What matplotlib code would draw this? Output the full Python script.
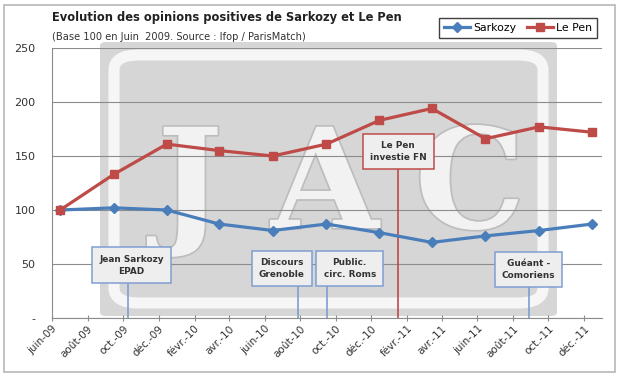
import datetime as dt

import matplotlib
matplotlib.use("Agg")
import matplotlib.pyplot as plt
import matplotlib.dates as mdates
from matplotlib.patches import FancyBboxPatch, Rectangle
import matplotlib.patheffects as pe

# data: one point every quarter, base 100 in June 2009
dates = [dt.date(2009, 6, 15), dt.date(2009, 9, 15), dt.date(2009, 12, 15),
         dt.date(2010, 3, 15), dt.date(2010, 6, 15), dt.date(2010, 9, 15),
         dt.date(2010, 12, 15), dt.date(2011, 3, 15), dt.date(2011, 6, 15),
         dt.date(2011, 9, 15), dt.date(2011, 12, 15)]
sarkozy = [100, 102, 100, 87, 81, 87, 79, 70, 76, 81, 87]
le_pen = [100, 133, 161, 155, 150, 161, 183, 194, 166, 177, 172]

tick_labels = ["juin-09", "août-09", "oct.-09", "déc.-09", "févr.-10", "avr.-10",
               "juin-10", "août-10", "oct.-10", "déc.-10", "févr.-11", "avr.-11",
               "juin-11", "août-11", "oct.-11", "déc.-11"]
tick_dates = [dt.date(2009 + (5 + 2 * i) // 12, (5 + 2 * i) % 12 + 1, 1)
              for i in range(len(tick_labels))]

# events: label, date of the line, date of box centre, box centre y, colour
event_labels = ["Jean Sarkozy\nEPAD", "Discours\nGrenoble", "Public.\ncirc. Roms",
                "Le Pen\ninvestie FN", "Guéant -\nComoriens"]
event_dates = [dt.date(2009, 10, 10), dt.date(2010, 7, 28), dt.date(2010, 9, 16),
               dt.date(2011, 1, 16), dt.date(2011, 8, 28)]
event_box_dates = [dt.date(2009, 10, 15), dt.date(2010, 6, 30), dt.date(2010, 10, 25),
                   dt.date(2011, 1, 16), dt.date(2011, 8, 28)]
event_box_y = [49, 46, 46, 154, 45]
event_colors = ["#7f9fcf", "#7f9fcf", "#7f9fcf", "#be4b48", "#7f9fcf"]

blue = "#4a7ebb"
red = "#be4b48"

fig = plt.figure(figsize=(6.2, 3.77), dpi=100)
fig.patch.set_facecolor("white")
ax = fig.add_axes([52 / 620, 1 - 318 / 377, 550 / 620, 270 / 377])
ax.set_facecolor("none")
ax.set_zorder(2)

# outer frame
fig.patches.append(Rectangle((4 / 620, 5 / 377), 611 / 620, 367 / 377,
                             transform=fig.transFigure, fill=False,
                             edgecolor="#b8b8b8", linewidth=1.2, zorder=-1))

# watermark in the background
fig.patches.append(FancyBboxPatch((100 / 620, 1 - 316 / 377), 457 / 620, 274 / 377,
                                  boxstyle="round,pad=0,rounding_size=0.01",
                                  transform=fig.transFigure, facecolor="#d6d6d6",
                                  edgecolor="none", zorder=-1))
fig.patches.append(FancyBboxPatch((114 / 620, 1 - 303 / 377), 429 / 620, 248 / 377,
                                  boxstyle="round,pad=0,rounding_size=0.04",
                                  transform=fig.transFigure, facecolor="none",
                                  edgecolor="#f6f6f6", linewidth=8, zorder=-1))
for letter, lx in zip("JAC", [190, 325, 470]):
    fig.text(lx / 620, 1 - 190 / 377, letter, ha="center", va="center",
             fontsize=100, family="DejaVu Serif", fontweight="bold",
             color="#f2f2f2", zorder=-1,
             path_effects=[pe.withStroke(linewidth=2.5, foreground="#bdbdbd")])

ax.set_ylim(0, 250)
ax.set_xlim(mdates.date2num(dt.date(2009, 6, 1)), mdates.date2num(dt.date(2012, 1, 1)))
ax.set_yticks([0, 50, 100, 150, 200, 250])
ax.set_yticklabels(["-", "50", "100", "150", "200", "250"])
ax.set_xticks(mdates.date2num(tick_dates))
ax.set_xticklabels(tick_labels, rotation=45, ha="right", rotation_mode="anchor")
ax.grid(axis="y", color="#8c8c8c", linewidth=0.8)
ax.set_axisbelow(True)
for s in ["top", "right"]:
    ax.spines[s].set_visible(False)
ax.spines["left"].set_color("#8c8c8c")
ax.spines["bottom"].set_color("#8c8c8c")
ax.tick_params(axis="y", length=0, labelsize=8, colors="#333333", pad=12)
ax.tick_params(axis="x", length=4, direction="inout", labelsize=7.5,
               colors="#8c8c8c", labelcolor="#333333", pad=2)

x = mdates.date2num(dates)
ax.plot(x, sarkozy, color=blue, linewidth=2.3, marker="D", markersize=5,
        label="Sarkozy", zorder=3)
ax.plot(x, le_pen, color=red, linewidth=2.3, marker="s", markersize=6,
        label="Le Pen", zorder=3)

for lab, d, bd, by, c in zip(event_labels, event_dates, event_box_dates,
                             event_box_y, event_colors):
    ax.plot([mdates.date2num(d)] * 2, [0, by - 16], color=c, linewidth=1.2, zorder=2)
    ax.text(mdates.date2num(bd), by, lab, ha="center", va="center", fontsize=6.4,
            fontweight="bold", color="#333333", linespacing=1.45, zorder=4,
            bbox=dict(boxstyle="square,pad=0.8", facecolor="#eeeeee",
                      edgecolor=c, linewidth=1.1))

fig.text(52 / 620, 1 - 18 / 377, "Evolution des opinions positives de Sarkozy et Le Pen",
         fontsize=8.3, fontweight="bold", color="#222222", va="center")
fig.text(52 / 620, 1 - 37 / 377, "(Base 100 en Juin  2009. Source : Ifop / ParisMatch)",
         fontsize=7.1, color="#333333", va="center")

fig.legend(loc="center", bbox_to_anchor=(518 / 620, 1 - 28 / 377), ncol=2,
           fontsize=7.8, frameon=True, fancybox=False, edgecolor="#404040",
           handlelength=2.4, handletextpad=0.3, columnspacing=1.0,
           borderpad=0.45, framealpha=1)

fig.savefig("out.png", dpi=100)
